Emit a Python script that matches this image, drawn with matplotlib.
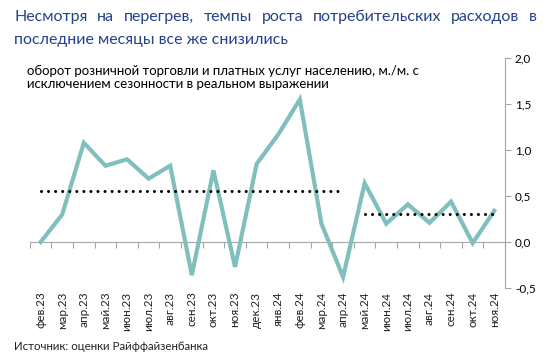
import matplotlib
matplotlib.use("Agg")
import matplotlib.pyplot as plt
import matplotlib.transforms as mtransforms

# ----------------------------
# Data
# ----------------------------
months = ["фев.23", "мар.23", "апр.23", "май.23", "июн.23", "июл.23", "авг.23",
          "сен.23", "окт.23", "ноя.23", "дек.23", "янв.24", "фев.24", "мар.24",
          "апр.24", "май.24", "июн.24", "июл.24", "авг.24", "сен.24", "окт.24",
          "ноя.24"]
turnover = [0.00, 0.30, 1.08, 0.83, 0.90, 0.69, 0.83, -0.36, 0.78, -0.27, 0.85,
            1.17, 1.55, 0.20, -0.38, 0.64, 0.20, 0.41, 0.21, 0.44, -0.01, 0.34]
# average levels for the two periods
avg1_level = 0.55
avg1_range = ("фев.23", "апр.24")
avg2_level = 0.30
avg2_range = ("май.24", "ноя.24")
yticks = [-0.5, 0.0, 0.5, 1.0, 1.5, 2.0]

title_line1 = "Несмотря на перегрев, темпы роста потребительских расходов в"
title_line2 = "последние месяцы все же снизились"
subtitle = ("оборот розничной торговли и платных услуг населению, м./м. с\n"
            "исключением сезонности в реальном выражении")
source = "Источник: оценки Райффайзенбанка"

LINE_COLOR = "#80bfbd"
TITLE_COLOR = "#24418c"
AXIS_COLOR = "#a6a6a6"
FONT = "Lato"

plt.rcParams["font.family"] = [FONT, "DejaVu Sans"]

fig = plt.figure(figsize=(5.52, 3.61), dpi=100)
ax = fig.add_axes([0.054, 0.202, 0.861, 0.637])

x = list(range(len(months)))
ax.plot(x, turnover, color=LINE_COLOR, lw=3.0, solid_joinstyle="miter", zorder=3)

# dotted average lines
for level, (a, b) in [(avg1_level, avg1_range), (avg2_level, avg2_range)]:
    i0, i1 = months.index(a), months.index(b)
    ax.plot([i0, i1], [level, level], color="black", lw=2.2,
            linestyle=(0, (0.01, 2.3)), dash_capstyle="round", zorder=4)

ax.set_xlim(-0.5, len(months) - 0.5)
ax.set_ylim(-0.5, 2.0)

# y axis on the right
ax.yaxis.tick_right()
ax.set_yticks(yticks)
ax.set_yticklabels([f"{v:.1f}".replace(".", ",") for v in yticks], fontsize=8.5)
ax.tick_params(axis="y", direction="out", length=4, width=0.8, color=AXIS_COLOR, pad=3)
for s in ["top", "left"]:
    ax.spines[s].set_visible(False)
ax.spines["right"].set_color(AXIS_COLOR)
ax.spines["right"].set_linewidth(0.8)

# x axis at zero, ticks between categories
ax.spines["bottom"].set_position(("data", 0))
ax.spines["bottom"].set_color(AXIS_COLOR)
ax.spines["bottom"].set_linewidth(0.8)
ax.set_xticks([i - 0.5 for i in range(len(months) + 1)])
ax.set_xticklabels([])
ax.tick_params(axis="x", direction="out", length=4, width=0.8, color=AXIS_COLOR)

trans = mtransforms.blended_transform_factory(ax.transData, ax.transAxes)
for i, m in enumerate(months):
    ax.text(i, -0.015, m, transform=trans, rotation=90, ha="center", va="top",
            fontsize=8.5, color="#222222")

# title: first line justified between left and right edges
renderer = fig.canvas.get_renderer()
x_left, x_right = 14 / 552, 537 / 552
words = title_line1.split()
objs = [fig.text(0, 0.952, w, color=TITLE_COLOR, fontsize=11.5, ha="left", va="center")
        for w in words]
widths = [o.get_window_extent(renderer).width / fig.bbox.width for o in objs]
gap = (x_right - x_left - sum(widths)) / (len(words) - 1)
pos = x_left
for o, w in zip(objs, widths):
    o.set_x(pos)
    pos += w + gap
fig.text(x_left, 0.889, title_line2, color=TITLE_COLOR, fontsize=11.5,
         ha="left", va="center")

fig.text(0.049, 0.786, subtitle, color="black", fontsize=9.5,
         ha="left", va="center", linespacing=1.1)
fig.text(0.025, 0.04, source, color="#222222", fontsize=8.3, ha="left", va="center")

fig.savefig("out.png", dpi=100)
